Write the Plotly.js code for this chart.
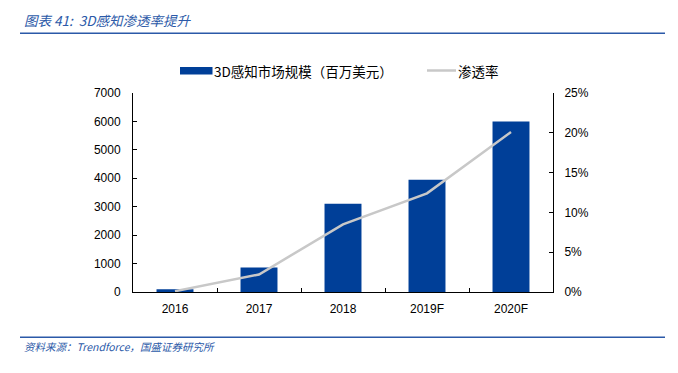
<!DOCTYPE html>
<html><head><meta charset="utf-8">
<script src="https://cdn.plot.ly/plotly-3.0.1.min.js"></script>
<style>body{margin:0;background:#fff}#c{width:678px;height:373px}</style>
</head><body><div id="c"></div>
<script>
const categories = ["2016", "2017", "2018", "2019F", "2020F"];
const marketSize = [100, 860, 3100, 3950, 6000];
const penetration = [0.001, 0.022, 0.085, 0.124, 0.201];
const barName = "3D感知市场规模（百万美元）";
const lineName = "渗透率";
const leftTicks = [0, 1000, 2000, 3000, 4000, 5000, 6000, 7000];
const rightTicks = [0, 0.05, 0.10, 0.15, 0.20, 0.25];

const blue = "#003f98";
const grey = "#c8c8c8";
const titleBlue = "#2b59a8";
const cjk = "Noto Sans CJK SC, Liberation Sans, sans-serif";
const axisFont = {family: "Liberation Sans, Arial, sans-serif", size: 12, color: "#000"};

const data = [
  {type: "bar", x: categories, y: marketSize, name: barName, marker: {color: blue}, yaxis: "y"},
  {type: "scatter", mode: "lines", x: categories, y: penetration, name: lineName,
   line: {color: grey, width: 2.5}, yaxis: "y2"}
];

// paper coords helper: plot area spans px 133..553 horizontally, 93..292 vertically
const px = v => (v - 133) / 420;
const py = v => (292 - v) / 199;

const layout = {
  width: 678, height: 373,
  margin: {l: 133, r: 125, t: 93, b: 81},
  paper_bgcolor: "#fff", plot_bgcolor: "#fff",
  bargap: 0.56,
  showlegend: false,
  xaxis: {type: "category", showline: true, linecolor: "#000", linewidth: 1,
          ticks: "inside", tickson: "boundaries", ticklen: 4, tickcolor: "#000",
          tickfont: axisFont, ticklabelstandoff: 6, showgrid: false, zeroline: false},
  yaxis: {range: [0, 7000], tickvals: leftTicks, showline: true, linecolor: "#000", linewidth: 1,
          ticks: "inside", ticklen: 4, tickcolor: "#000", tickfont: axisFont,
          ticklabelstandoff: 9, showgrid: false, zeroline: false},
  yaxis2: {range: [0, 0.25], tickvals: rightTicks, tickformat: ".0%", overlaying: "y", side: "right",
           showline: true, linecolor: "#000", linewidth: 1, ticks: "inside", ticklen: 4,
           tickcolor: "#000", tickfont: axisFont, ticklabelstandoff: 8, showgrid: false, zeroline: false},
  shapes: [
    {type: "line", xref: "paper", yref: "paper", x0: px(20), x1: px(665), y0: py(33.3), y1: py(33.3),
     line: {color: titleBlue, width: 1.5}},
    {type: "line", xref: "paper", yref: "paper", x0: px(20), x1: px(665), y0: py(337.3), y1: py(337.3),
     line: {color: titleBlue, width: 1.5}},
    // legend swatches
    {type: "rect", xref: "paper", yref: "paper", x0: px(180), x1: px(212.5), y0: py(74.5), y1: py(67),
     fillcolor: blue, line: {width: 0}},
    {type: "line", xref: "paper", yref: "paper", x0: px(427), x1: px(456), y0: py(70.5), y1: py(70.5),
     line: {color: grey, width: 2.5}}
  ],
  annotations: [
    {xref: "paper", yref: "paper", x: px(22), y: py(20), xanchor: "left", yanchor: "middle",
     text: "<i>图表 41:  3D感知渗透率提升</i>", showarrow: false,
     font: {family: cjk, size: 13.5, color: titleBlue}},
    {xref: "paper", yref: "paper", x: px(22), y: py(346.7), xanchor: "left", yanchor: "middle",
     text: "<i>资料来源：Trendforce，国盛证券研究所</i>", showarrow: false,
     font: {family: cjk, size: 10.5, color: titleBlue}},
    {xref: "paper", yref: "paper", x: px(212), y: py(70.7), xanchor: "left", yanchor: "middle",
     text: barName, showarrow: false, font: {family: cjk, size: 13.5, color: "#000"}},
    {xref: "paper", yref: "paper", x: px(456), y: py(70.7), xanchor: "left", yanchor: "middle",
     text: lineName, showarrow: false, font: {family: cjk, size: 13.5, color: "#000"}}
  ]
};
Plotly.newPlot("c", data, layout, {staticPlot: true, displayModeBar: false});
</script></body></html>
